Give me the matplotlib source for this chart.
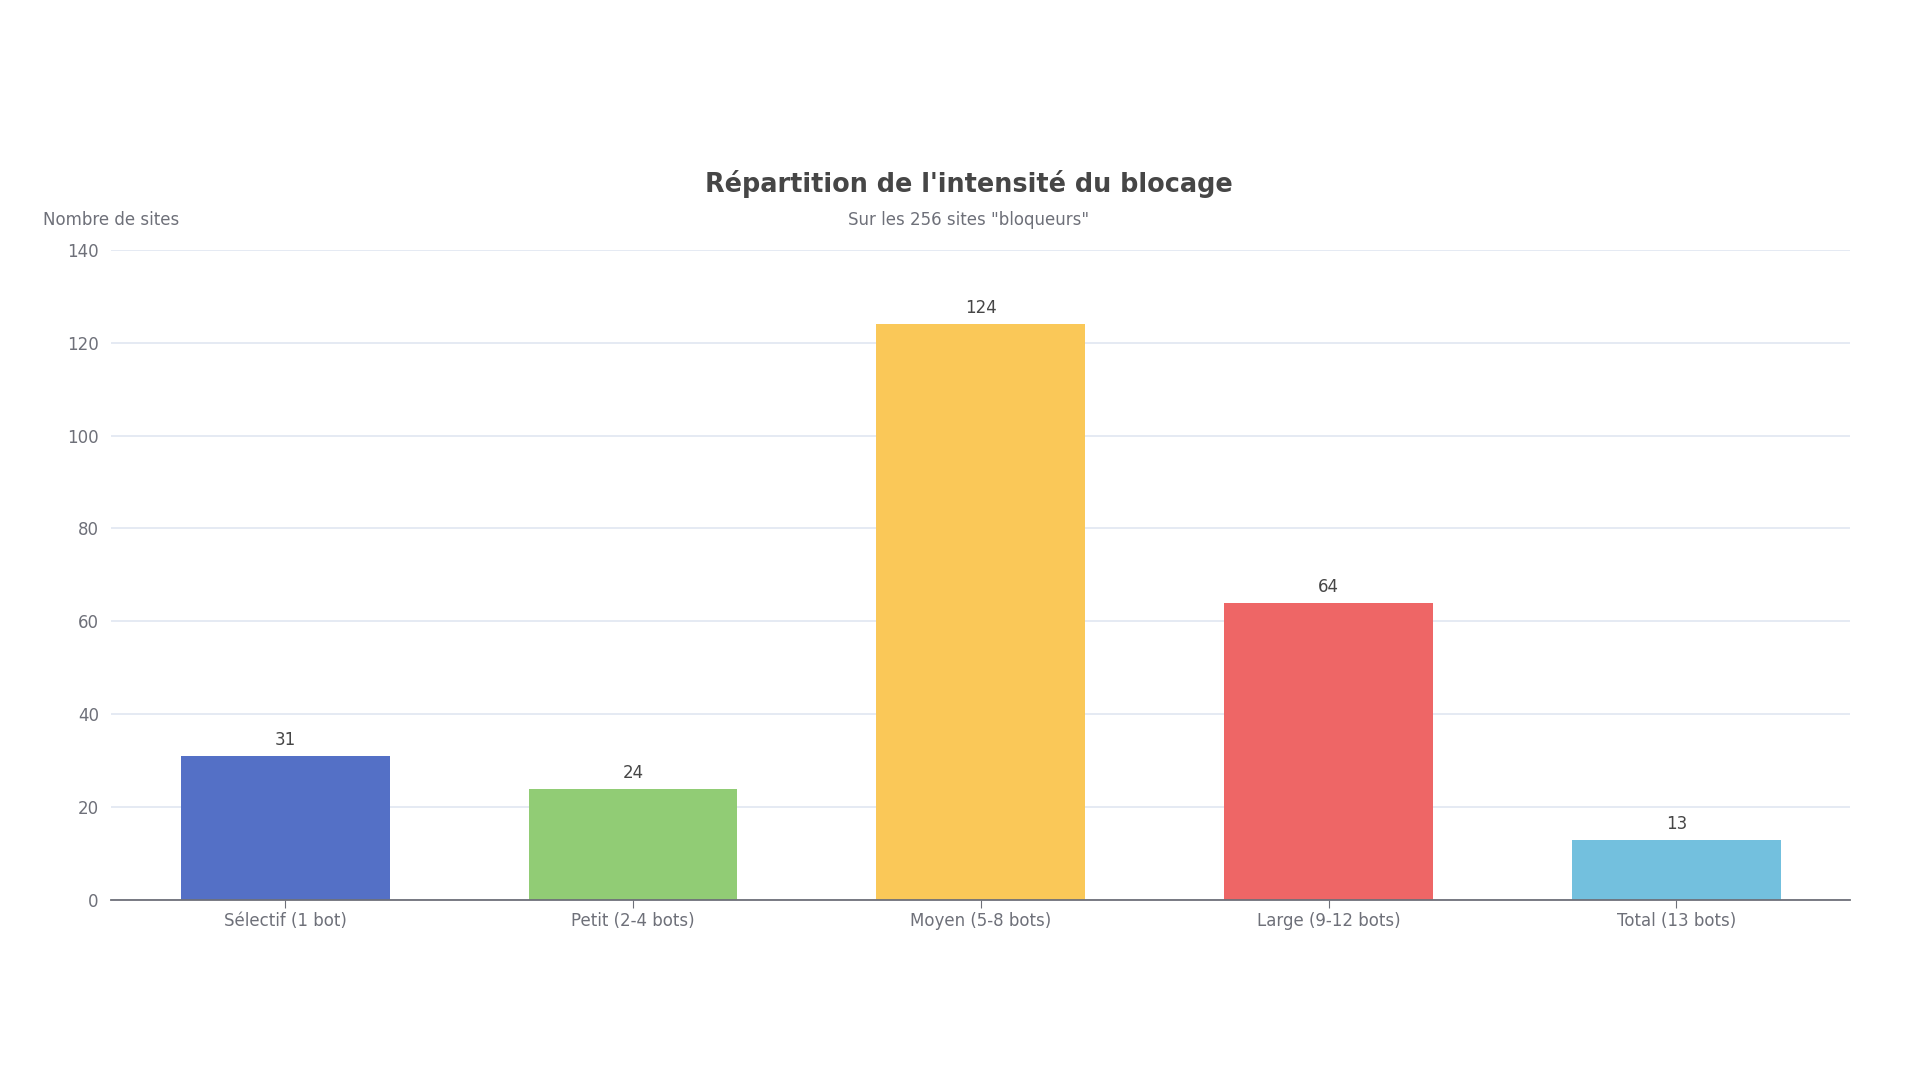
import matplotlib
matplotlib.use("Agg")
import matplotlib.pyplot as plt

categories = ["Sélectif (1 bot)", "Petit (2-4 bots)", "Moyen (5-8 bots)",
              "Large (9-12 bots)", "Total (13 bots)"]
values = [31, 24, 124, 64, 13]
colors = ["#5470c6", "#91cc75", "#fac858", "#ee6666", "#73c0de"]
yticks = [0, 20, 40, 60, 80, 100, 120, 140]

plt.rcParams["font.family"] = ["DejaVu Sans"]

fig = plt.figure(figsize=(19.2, 10.8), dpi=100)
ax = fig.add_axes([0.058, 0.1667, 0.9057, 0.602])

x = range(len(categories))
bars = ax.bar(x, values, width=0.6, color=colors, zorder=2)

# value labels above bars
for b, v in zip(bars, values):
    ax.annotate(str(v), (b.get_x() + b.get_width() / 2, v),
                xytext=(0, 5), textcoords="offset points",
                ha="center", va="bottom", fontsize=12, color="#464646")

ax.set_xlim(-0.5, len(categories) - 0.5)
ax.set_ylim(0, 140)
ax.set_yticks(yticks)
ax.set_xticks(list(x))
ax.set_xticklabels(categories)

# grid and spines
ax.grid(axis="y", color="#E0E6F1", linewidth=1.2, zorder=0)
for s in ["top", "right", "left"]:
    ax.spines[s].set_visible(False)
ax.spines["bottom"].set_color("#6E7079")
ax.spines["bottom"].set_linewidth(1.3)
ax.tick_params(axis="y", length=0, pad=9, labelsize=12, labelcolor="#6E7079")
ax.tick_params(axis="x", length=6, color="#6E7079", pad=3, labelsize=12,
               labelcolor="#6E7079")

# titles
fig.text(0.5045, 0.830, "Répartition de l'intensité du blocage", ha="center",
         va="center", fontsize=18.4, fontweight="bold", color="#464646")
fig.text(0.5045, 0.796, 'Sur les 256 sites "bloqueurs"', ha="center",
         va="center", fontsize=12, color="#6E7079")
fig.text(0.0223, 0.796, "Nombre de sites", ha="left", va="center",
         fontsize=12, color="#6E7079")

fig.savefig("out.png", dpi=100, facecolor="white")
